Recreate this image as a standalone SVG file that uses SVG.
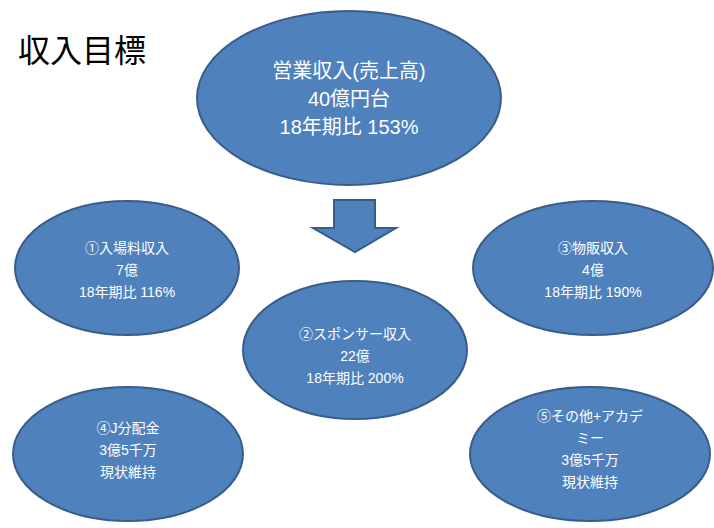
<svg xmlns="http://www.w3.org/2000/svg" width="714" height="528" viewBox="0 0 714 528">
<style>
.n{fill:#4F81BD;stroke:#385D8A;stroke-width:2}
.t{fill:#fff;font-family:"Liberation Sans","Noto Sans CJK JP",sans-serif;text-anchor:middle;font-size:14px}
.b{font-size:20px}
</style>
<rect width="714" height="528" fill="#fff"/>
<text x="18" y="62" font-family="'Noto Sans CJK JP',sans-serif" font-size="32" fill="#000">収入目標</text>
<g id="top"><ellipse class="n" cx="349" cy="98" rx="152" ry="87"/>
<text class="t b" x="349" y="78">営業収入(売上高)</text><text class="t b" x="349" y="106">40億円台</text><text class="t b" x="349" y="134">18年期比 153%</text></g>
<g id="connectors"><polygon points="334,200 375,200 375,228 396,228 355,252 313,228 334,228" class="n"/></g>
<g id="n1"><ellipse class="n" cx="127" cy="268" rx="112" ry="67"/>
<text class="t" x="127" y="253">①入場料収入</text><text class="t" x="127" y="275">7億</text><text class="t" x="127" y="297">18年期比 116%</text></g>
<g id="n3"><ellipse class="n" cx="593" cy="268" rx="120" ry="67"/>
<text class="t" x="593" y="253">③物販収入</text><text class="t" x="593" y="275">4億</text><text class="t" x="593" y="297">18年期比 190%</text></g>
<g id="n2"><ellipse class="n" cx="355" cy="350" rx="112" ry="69"/>
<text class="t" x="355" y="339">②スポンサー収入</text><text class="t" x="355" y="361">22億</text><text class="t" x="355" y="383">18年期比 200%</text></g>
<g id="n4"><ellipse class="n" cx="128" cy="454" rx="115" ry="67"/>
<text class="t" x="128" y="433">④J分配金</text><text class="t" x="128" y="455">3億5千万</text><text class="t" x="128" y="477">現状維持</text></g>
<g id="n5"><ellipse class="n" cx="590" cy="454" rx="120" ry="67"/>
<text class="t" x="590" y="421">⑤その他+アカデ</text><text class="t" x="590" y="443">ミー</text><text class="t" x="590" y="465">3億5千万</text><text class="t" x="590" y="487">現状維持</text></g>
</svg>
